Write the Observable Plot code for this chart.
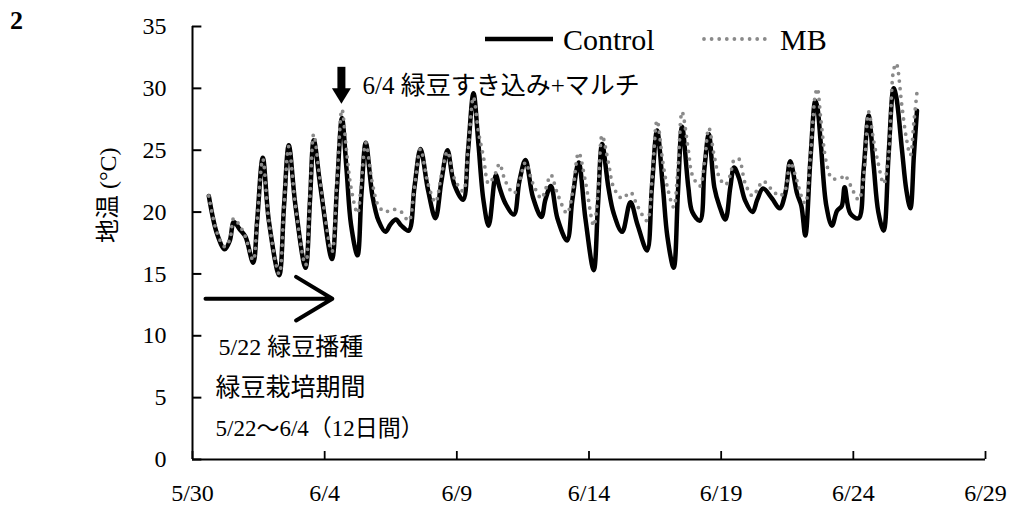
<!DOCTYPE html>
<html><head><meta charset="utf-8">
<script src="https://cdn.jsdelivr.net/npm/d3@7"></script>
<script src="https://cdn.jsdelivr.net/npm/@observablehq/plot@0.6"></script>
<style>
body{margin:0;background:#fff;}
#wrap{position:relative;width:1014px;height:511px;overflow:hidden;}
.ov{position:absolute;font-family:"Liberation Serif","DejaVu Serif","Noto Sans CJK JP",serif;color:#000;white-space:nowrap;line-height:1;}
</style></head><body><div id="wrap"></div>
<script>
// hours since 5/30 00:00
const hours = [
14.8,22.4,29.3,33.9,37.5,42.9,48.1,55.1,58.7,63.8,
69.3,78.7,83.1,87.4,93.5,102.6,106.7,110.1,116.2,126.6,
131.2,135.7,139.8,143.9,149.8,153.4,157.3,163.4,168.9,175.2,
179.7,184.7,189.7,196.3,201.5,207.0,213.8,220.6,226.0,231.5,
237.4,245.7,250.2,255.1,259.6,264.1,268.9,275.4,278.7,284.1,
291.8,296.8,302.3,309.1,316.8,320.4,325.4,331.3,340.1,344.9,
350.6,356.7,364.3,368.1,371.9,377.6,382.4,390.1,397.6,404.0,
412.7,417.1,421.8,427.1,431.2,436.9,440.7,444.5,450.2,453.8,
460.7,464.8,468.8,473.8,478.4,483.8,488.3,491.7,496.0,501.9,
508.5,512.8,518.0,526.2,533.1,538.2,542.7,548.9,552.8,556.4,
561.0,565.5,567.3,570.5,575.5,580.6,585.2,589.5,592.1,597.2,
604.8,609.3,613.9,618.4,622.7,627.5,632.0,636.6,639.0,644.2,
648.1,651.8,655.0,657.8];
const control = [
21.3,18.2,17.0,17.7,19.2,18.6,18.0,15.9,19.3,24.4,
19.3,14.9,20.5,25.4,20.5,15.5,21.0,25.8,22.0,16.2,
22.0,27.6,23.5,19.0,16.5,21.5,25.6,21.3,19.3,18.4,
19.0,19.4,18.9,18.5,22.0,25.1,21.8,19.5,22.5,25.0,
22.3,21.0,25.0,29.6,25.5,21.0,18.9,23.0,22.0,20.7,
19.8,22.5,24.2,21.2,19.6,21.0,22.1,19.5,17.7,21.0,
24.0,19.5,15.3,20.5,25.5,22.0,19.9,18.4,20.8,19.0,
16.9,22.0,26.6,22.0,18.0,15.5,21.5,26.9,22.0,20.0,
19.3,23.5,26.3,22.0,20.5,19.4,22.0,23.6,22.8,20.9,
20.0,21.0,21.9,21.1,20.3,21.5,24.1,21.5,20.5,18.1,
24.2,29.0,28.5,25.5,20.5,18.9,20.1,20.5,22.0,19.9,
19.5,23.4,27.8,23.8,20.0,18.5,24.6,30.0,29.3,25.0,
21.8,20.3,24.6,28.2];
const mb = [
21.3,18.3,17.2,17.8,19.5,18.9,18.0,16.1,19.3,24.3,
19.3,15.0,20.5,25.3,20.5,15.7,21.3,26.3,22.3,16.8,
22.5,28.3,25.0,22.0,19.9,22.5,25.6,22.3,20.5,20.0,
20.2,20.2,20.0,19.3,22.0,25.1,22.3,20.8,23.0,24.9,
22.8,21.7,25.0,29.3,26.5,24.5,22.3,23.2,23.9,22.5,
21.5,22.5,24.0,22.3,21.1,21.8,23.0,21.5,19.9,21.5,
24.8,22.5,18.9,21.5,26.2,24.0,22.0,21.1,21.6,20.5,
19.3,22.5,27.4,24.0,22.0,20.4,23.5,28.1,25.0,23.0,
22.1,24.0,26.8,24.5,22.8,22.2,23.0,24.2,24.3,22.3,
21.3,21.8,22.5,21.8,21.3,21.8,24.0,22.5,21.3,20.7,
24.5,29.5,30.0,27.5,24.0,22.7,22.7,22.8,23.0,22.2,
21.0,22.8,28.1,25.8,23.9,22.3,24.6,31.5,32.0,28.5,
26.0,24.6,27.3,29.7];
const yTicks = [0,5,10,15,20,25,30,35];
const xTickHours = [0,120,240,360,480,600,720];
const seriesNames = ["Control","MB"];
const yLabel = "地温 (°C)";
// annotations
const annoText = ["6/4 緑豆すき込み+マルチ","5/22 緑豆播種","緑豆栽培期間","5/22～6/4（12日間）"];
const annoHour = [154.3,23.6,20.9,20.9];
const annoValue = [30.2,9.05,5.8,2.5];
const annoSize = [25,24,25,23];

const T0 = Date.UTC(2021,4,30);
const t = h => new Date(T0 + h*3600e3);
const data = hours.map((h,i)=>({date:t(h), control:control[i], mb:mb[i]}));
const font = '"Liberation Serif","DejaVu Serif","Noto Sans CJK JP",serif';
const fmt = d => `${d.getUTCMonth()+1}/${d.getUTCDate()}`;
const triDown = {draw(c){c.moveTo(-9.5,-7.5);c.lineTo(9.5,-7.5);c.lineTo(0,8);c.closePath();}};

const chart = Plot.plot({
  width:1014, height:511,
  marginLeft:192, marginRight:29, marginTop:26, marginBottom:52,
  style:{fontFamily:font, fontSize:"24px", color:"#000", background:"#fff", overflow:"visible"},
  x:{type:"utc", domain:[t(0), t(720)]},
  y:{domain:[0,35]},
  marks:[
    Plot.axisY({ticks:yTicks, tickSize:0, tickPadding:26, label:null}),
    Plot.axisX({ticks:xTickHours.map(t), tickSize:0, tickPadding:24, tickFormat:fmt, label:null}),
    Plot.axisX({ticks:xTickHours.map(t), tickSize:8, dy:-8, tickFormat:()=>"", label:null, strokeWidth:1.8}),
    Plot.ruleX([t(0)], {strokeWidth:2}),
    Plot.ruleY([0], {strokeWidth:2}),
    Plot.ruleY(yTicks, {y:d=>d, x1:()=>t(0), x2:()=>t(8.5), stroke:"#000", strokeWidth:2}),
    Plot.text([yLabel], {frameAnchor:"left", rotate:-90, dx:-84, fontSize:24}),
    Plot.line(data, {x:"date", y:"control", stroke:"#000", strokeWidth:4.5, curve:"catmull-rom"}),
    Plot.line(data, {x:"date", y:"mb", stroke:"#8a8a8a", strokeWidth:3.8, strokeDasharray:"0,7.6", strokeLinecap:"round", curve:"catmull-rom"}),
    Plot.ruleX([t(135.2)], {y1:31.7, y2:29.8, stroke:"#000", strokeWidth:8}),
    Plot.dot([t(135.2)], {x:d=>d, y:()=>29.4, symbol:triDown, fill:"#000", stroke:"none"}),
    Plot.arrow([0], {x1:()=>t(11.8), y1:()=>13.0, x2:()=>t(127), y2:()=>13.0, stroke:"#000", strokeWidth:4, headLength:18, headAngle:62}),
    Plot.text(annoText, {x:(d,i)=>t(annoHour[i]), y:(d,i)=>annoValue[i], text:d=>d, textAnchor:"start", fontSize:(d,i)=>annoSize[i]})
  ]
});
const wrap = document.getElementById("wrap");
wrap.appendChild(chart);
function ov(html, left, top, size){const d=document.createElement("div");d.className="ov";d.innerHTML=html;d.style.left=left+"px";d.style.top=top+"px";d.style.fontSize=size+"px";wrap.appendChild(d);return d;}
ov("2", 10, 8, 26).style.fontWeight="bold";
ov(`<svg width="70" height="10" style="display:block"><line x1="0" y1="5" x2="68" y2="5" stroke="#000" stroke-width="4.5"/></svg>`, 485, 34, 10);
ov(seriesNames[0], 563, 25, 30);
ov(`<svg width="72" height="10" style="display:block"><line x1="3" y1="5" x2="69" y2="5" stroke="#8a8a8a" stroke-width="3.8" stroke-dasharray="0,7.6" stroke-linecap="round"/></svg>`, 701, 34, 10);
ov(seriesNames[1], 780, 25, 30);
</script></body></html>
